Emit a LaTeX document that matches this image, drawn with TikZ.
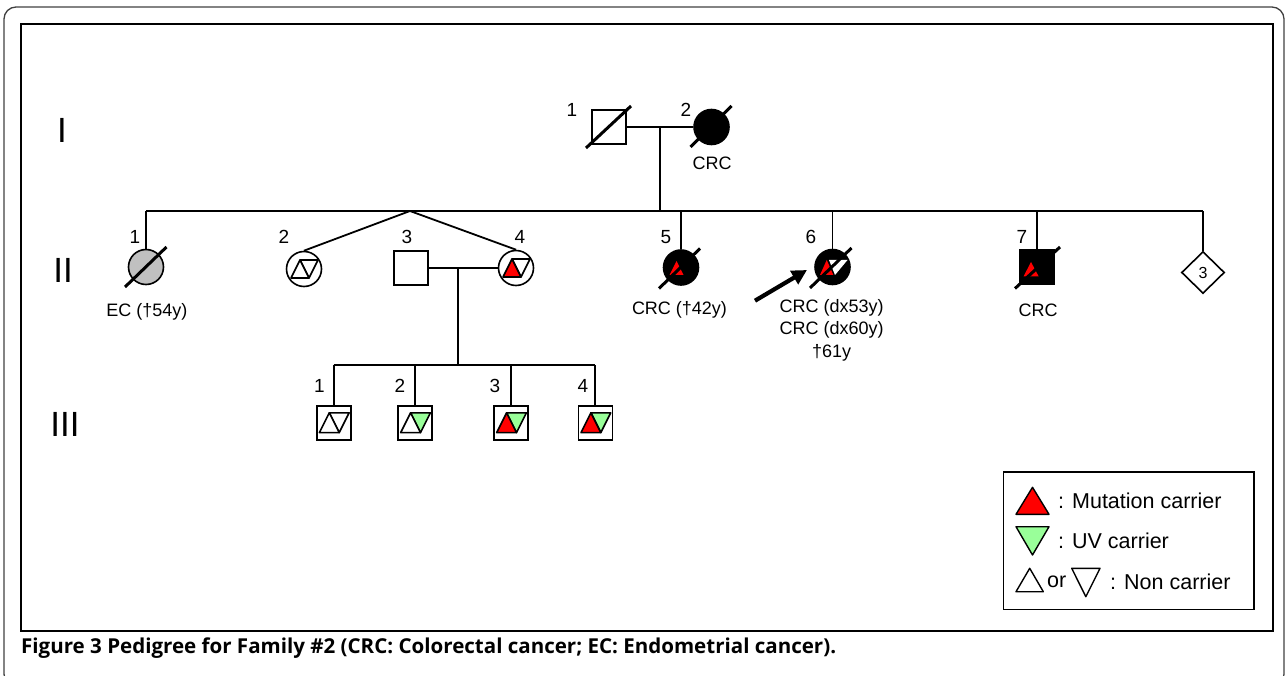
\documentclass[tikz,border=0pt]{standalone}
\usepackage{fontspec}
\setmainfont{Liberation Sans}
\newfontfamily\capfont{Open Sans}
\usetikzlibrary{arrows.meta,shapes.geometric,calc}
\definecolor{mutred}{RGB}{255,0,0}
\definecolor{uvgreen}{RGB}{153,255,153}
\definecolor{ecgray}{RGB}{192,192,192}
% two triangles inside a symbol: node, scale, up colour, down colour
\newcommand\twotri[4]{%
  \begin{scope}[shift={(#1.center)},scale=#2]
    \filldraw[fill=#4,line width=1.6pt,line join=round] (-4,-9)--(14,-9)--(5,9)--cycle;
    \filldraw[fill=#3,line width=1.6pt,line join=round] (-13,9)--(-4,-9)--(5,9)--cycle;
  \end{scope}}
\begin{document}
\begin{tikzpicture}[x=1pt,y=-1pt,
  conn/.style={line width=1.8pt},
  sq/.style={rectangle,draw,line width=1.6pt,minimum size=34pt,inner sep=0pt},
  circ/.style={circle,draw,line width=1.6pt,minimum size=35pt,inner sep=0pt},
  slashline/.style={line width=3pt},
  lbl/.style={font=\fontsize{18}{22.5}\selectfont,inner sep=0pt,align=center},
  numlbl/.style={font=\fontsize{19}{22}\selectfont,inner sep=0pt},
  genlbl/.style={font=\fontsize{35}{40}\selectfont,inner sep=0pt},
  leglbl/.style={font=\fontsize{21.5}{24}\selectfont,inner sep=0pt,anchor=west}]
\useasboundingbox (0,0) rectangle (1287,676);
% frames
\draw[line width=1.3pt,black!75,rounded corners=12pt] (4,7) rectangle (1284,686);
\draw[line width=1.8pt] (21,24) rectangle (1273,631);
% generation labels
\node[genlbl] (gI) at (62,130) {I};
\node[genlbl] (gII) at (63,270) {II};
\node[genlbl] (gIII) at (65,424) {III};
% ---------- generation I
\node[sq] (i1) at (609,127) {};
\node[circ,fill=black] (i2) at (711.5,127) {};
\draw[slashline] ($(i1)+(-23,21)$) -- ($(i1)+(22,-21)$);
\draw[slashline] ($(i2)+(-21,20)$) -- ($(i2)+(20,-21)$);
\node[numlbl] (li1) at (572,110) {1};
\node[numlbl] (li2) at (686,110) {2};
\node[lbl] (ti2) at (712,163) {CRC};
\draw[conn] (i1) -- (i2);
\coordinate (m1) at ($(i1.east)!0.5!(i2.west)$);
\coordinate (sib) at (0,211);
% ---------- generation II
\node[circ,fill=ecgray] (ii1) at (146,267) {};
\node[circ] (ii2) at (304,269) {};
\node[sq] (ii3) at (411,268) {};
\node[circ] (ii4) at (516,268) {};
\node[circ,fill=black] (ii5) at (681,267.5) {};
\node[circ,fill=black] (ii6) at (832.5,267) {};
\node[sq,fill=black] (ii7) at (1037,267) {};
\node[diamond,draw,line width=1.6pt,minimum width=43pt,minimum height=42pt,inner sep=0pt,font=\fontsize{16}{18}\selectfont] (ii8) at (1203,272.5) {3};
\draw[conn] (m1) -- (m1 |- sib);
\draw[conn] (ii1 |- sib) -- (ii8 |- sib);
\draw[conn] (ii1) -- (ii1 |- sib);
\coordinate (tw) at (410,211);
\draw[conn] (tw) -- (ii2.north);
\draw[conn] (tw) -- (ii4.north);
\draw[conn] (ii5) -- (ii5 |- sib);
\draw[conn] (ii6) -- (ii6 |- sib);
\draw[conn] (ii7) -- (ii7 |- sib);
\draw[conn] (ii8) -- (ii8 |- sib);
\draw[conn] (ii3) -- (ii4);
% symbols inside
\twotri{ii2}{1}{white}{white}
\twotri{ii4}{1}{mutred}{white}
\begin{scope}[shift={(ii5.center)}]
  \fill[mutred] (-11.5,7.5) -- (-4.5,-6.5) -- (2.5,7.5) -- cycle;
\end{scope}
\begin{scope}[shift={(ii6.center)}]
  \fill[white] (-3.5,-7) -- (15,-7) -- (2.5,8) -- cycle;
  \fill[mutred] (-12.5,8) -- (-5.8,-7) -- (0.8,8) -- cycle;
\end{scope}
\begin{scope}[shift={(ii7.center)}]
  \fill[mutred] (-13.4,9.3) -- (-6,-5) -- (1.6,9.3) -- cycle;
\end{scope}
% slashes gen II
\draw[slashline] ($(ii1)+(-21,20)$) -- ($(ii1)+(20.5,-20)$);
\draw[slashline] ($(ii5)+(-22,21)$) -- ($(ii5)+(19,-19)$);
\draw[slashline] ($(ii6)+(-22.5,21)$) -- ($(ii6)+(19,-19)$);
\draw[slashline] ($(ii7)+(-22,21.5)$) -- ($(ii7)+(23,-20)$);
% labels gen II
\node[numlbl] (lii1) at (135,237) {1};
\node[numlbl] (lii2) at (284,237) {2};
\node[numlbl] (lii3) at (407,237) {3};
\node[numlbl] (lii4) at (520,237) {4};
\node[numlbl] (lii5) at (666,237) {5};
\node[numlbl] (lii6) at (811,237) {6};
\node[numlbl] (lii7) at (1022,237) {7};
\node[lbl] (tii1) at (147,312) {EC (†54y)};
\node[lbl] (tii5) at (679.5,310) {CRC (†42y)};
\node[lbl,anchor=north] (tii6) at (831.7,299) {CRC (dx53y)\\CRC (dx60y)\\†61y};
\node[lbl] (tii7) at (1038,310) {CRC};
% proband arrow
\coordinate (arrS) at (755,300.7);
\coordinate (arrE) at (807,270);
\draw[line width=4.2pt,-{Triangle[length=15pt,width=15pt]}] (arrS) -- (arrE);
% ---------- generation III
\coordinate (m2) at ($(ii3.east)!0.42!(ii4.west)$);
\coordinate (sib3) at (0,365);
\node[sq] (iii1) at (333.7,422.7) {};
\node[sq] (iii2) at (415,422.7) {};
\node[sq] (iii3) at (511,422.7) {};
\node[sq] (iii4) at (595.3,422.7) {};
\draw[conn] (m2) -- (m2 |- sib3);
\draw[conn] (iii1 |- sib3) -- (iii4 |- sib3);
\foreach \n in {iii1,iii2,iii3,iii4} \draw[conn] (\n) -- (\n |- sib3);
\begin{scope}[yshift=-1pt]
\twotri{iii1}{1.1}{white}{white}
\twotri{iii2}{1.1}{white}{uvgreen}
\twotri{iii3}{1.1}{mutred}{uvgreen}
\twotri{iii4}{1.1}{mutred}{uvgreen}
\end{scope}
\node[numlbl] (liii1) at (319.5,386) {1};
\node[numlbl] (liii2) at (400,386) {2};
\node[numlbl] (liii3) at (495,386) {3};
\node[numlbl] (liii4) at (583,386) {4};
% ---------- legend
\node[draw,line width=1.6pt,minimum width=250.7pt,minimum height=137.6pt,inner sep=0pt] (leg) at (1128.7,540.5) {};
\filldraw[fill=mutred,line width=1.4pt,line join=round] (1016,514.3) -- (1032.5,487.3) -- (1049,514.3) -- cycle;
\filldraw[fill=uvgreen,line width=1.4pt,line join=round] (1016,526.7) -- (1049,526.7) -- (1032.5,555) -- cycle;
\draw[line width=1.4pt,line join=round] (1016,591.7) -- (1029.7,568.3) -- (1043.3,591.7) -- cycle;
\draw[line width=1.4pt,line join=round] (1071.7,568.3) -- (1100,568.3) -- (1085.8,596.7) -- cycle;
\node[leglbl] (lg1) at (1058,501) {: Mutation carrier};
\node[leglbl] (lg2) at (1058,541) {: UV carrier};
\node[leglbl] (lg3) at (1047,582) {or};
\node[leglbl] (lg4) at (1110,582) {: Non carrier};
% ---------- caption
\node[anchor=west,inner sep=0pt] (cap) at (21,648) {\resizebox{815pt}{!}{\capfont\bfseries\fontsize{18.5}{20}\selectfont Figure 3 Pedigree for Family \#2 (CRC: Colorectal cancer; EC: Endometrial cancer).}};
\end{tikzpicture}
\end{document}
